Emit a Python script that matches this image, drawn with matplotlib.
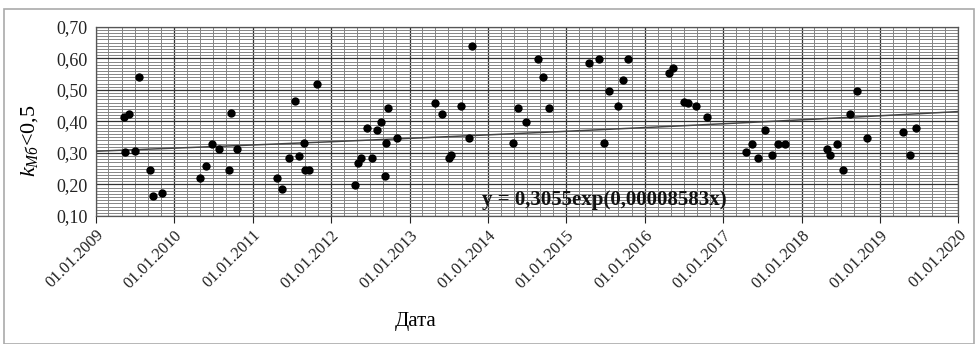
import numpy as np
import pandas as pd
import matplotlib
matplotlib.use("Agg")
import matplotlib.pyplot as plt
import matplotlib.dates as mdates
from matplotlib.patches import Rectangle

plt.rcParams['font.family'] = ['Liberation Serif', 'DejaVu Serif']
plt.rcParams['mathtext.fontset'] = 'custom'
plt.rcParams['mathtext.rm'] = 'Liberation Serif'
plt.rcParams['mathtext.it'] = 'Liberation Serif:italic'

# measured points (date, k)
dates = [
    "2009-05-11", "2009-06-06", "2009-05-15", "2009-07-23", "2009-07-05",
    "2009-09-09", "2009-09-23", "2009-11-06",
    "2010-05-01", "2010-05-30", "2010-06-24", "2010-07-31", "2010-09-12",
    "2010-09-23", "2010-10-19",
    "2011-04-23", "2011-05-19", "2011-06-21", "2011-07-20", "2011-08-07",
    "2011-08-29", "2011-09-02", "2011-09-20", "2011-10-26",
    "2012-04-22", "2012-05-07", "2012-05-18", "2012-06-16", "2012-07-11",
    "2012-08-02", "2012-08-21", "2012-09-08", "2012-09-15", "2012-09-22",
    "2012-11-02",
    "2013-04-30", "2013-05-30", "2013-07-05", "2013-07-12", "2013-08-29",
    "2013-10-04", "2013-10-19",
    "2014-04-30", "2014-05-22", "2014-06-28", "2014-08-22", "2014-09-16",
    "2014-10-12",
    "2015-04-16", "2015-06-02", "2015-06-24", "2015-07-20", "2015-08-29",
    "2015-09-20", "2015-10-15",
    "2016-04-22", "2016-05-14", "2016-07-01", "2016-07-22", "2016-08-28",
    "2016-10-18",
    "2017-04-16", "2017-05-15", "2017-06-13", "2017-07-12", "2017-08-14",
    "2017-09-13", "2017-10-15",
    "2018-04-27", "2018-05-15", "2018-06-13", "2018-07-12", "2018-08-14",
    "2018-09-16", "2018-10-30",
    "2019-04-20", "2019-05-19", "2019-06-17",
]
k_values = [
    0.413, 0.423, 0.302, 0.540, 0.307,
    0.246, 0.163, 0.174,
    0.220, 0.260, 0.330, 0.312, 0.246,
    0.426, 0.312,
    0.220, 0.186, 0.285, 0.466, 0.291,
    0.331, 0.246, 0.246, 0.520,
    0.197, 0.269, 0.284, 0.379, 0.285,
    0.373, 0.398, 0.228, 0.331, 0.444,
    0.349,
    0.458, 0.424, 0.284, 0.295, 0.450,
    0.349, 0.640,
    0.331, 0.444, 0.398, 0.597, 0.541,
    0.444,
    0.584, 0.597, 0.331, 0.496, 0.450,
    0.531, 0.597,
    0.555, 0.568, 0.462, 0.458, 0.450,
    0.415,
    0.302, 0.330, 0.284, 0.372, 0.295,
    0.330, 0.330,
    0.314, 0.295, 0.330, 0.245, 0.424,
    0.496, 0.349,
    0.367, 0.295, 0.379,
]

# trend y = a*exp(b*x), x = days from 01.01.2009
trend_a = 0.3055
trend_b = 0.00008583
start = pd.Timestamp("2009-01-01")
end = pd.Timestamp("2020-01-01")
eq_text = "y = 0,3055exp(0,00008583x)"

dt = pd.to_datetime(dates)

fig = plt.figure(figsize=(9.77, 3.44), dpi=100)
ax = fig.add_axes([0.098, 0.372, 0.883, 0.550])

# trend line
t_days = np.linspace(0, (end - start).days, 200)
t_dates = start + pd.to_timedelta(t_days, unit="D")
ax.plot(t_dates, trend_a * np.exp(trend_b * t_days), color="#444444", lw=1.1, zorder=3)

ax.scatter(dt, k_values, s=36, color="black", zorder=4, linewidths=0)

ax.set_xlim(start, end)
ax.set_ylim(0.10, 0.70)

ax.xaxis.set_major_locator(mdates.YearLocator())
ax.xaxis.set_major_formatter(mdates.DateFormatter("%d.%m.%Y"))
ax.xaxis.set_minor_locator(mdates.MonthLocator(bymonth=[3, 5, 7, 9, 11]))
ax.set_yticks(np.arange(0.10, 0.701, 0.10))
ax.set_yticks(np.arange(0.10, 0.701, 0.01), minor=True)
ax.yaxis.set_major_formatter(plt.FuncFormatter(lambda v, p: f"{v:.2f}".replace(".", ",")))

ax.grid(which="major", color="#333333", lw=0.9)
ax.grid(which="minor", color="#858585", lw=0.7)
ax.set_axisbelow(True)

ax.tick_params(axis="x", which="major", length=5, direction="out", labelsize=12,
               colors="#222222", pad=3)
ax.tick_params(axis="y", which="major", length=0, labelsize=13, colors="#222222", pad=6)
ax.tick_params(which="minor", length=0)
for lab in ax.get_xticklabels():
    lab.set_rotation(45)
    lab.set_ha("right")
    lab.set_rotation_mode("anchor")

for sp in ax.spines.values():
    sp.set_color("#555555")
    sp.set_linewidth(0.9)

ax.text(0.59, 0.085, eq_text, transform=ax.transAxes, ha="center", va="center",
        fontsize=15, fontweight="bold", color="#111111", zorder=5)

fig.text(0.030, 0.59, r"$k_{Мб}$<0,5", rotation=90, ha="center", va="center", fontsize=16)
fig.text(0.425, 0.065, "Дата", ha="center", va="center", fontsize=15)

fig.patches.append(Rectangle((0.004, 0.0), 0.993, 0.975, transform=fig.transFigure,
                             fill=False, edgecolor="#aaaaaa", lw=1.2))

fig.savefig("out.png", dpi=100)
